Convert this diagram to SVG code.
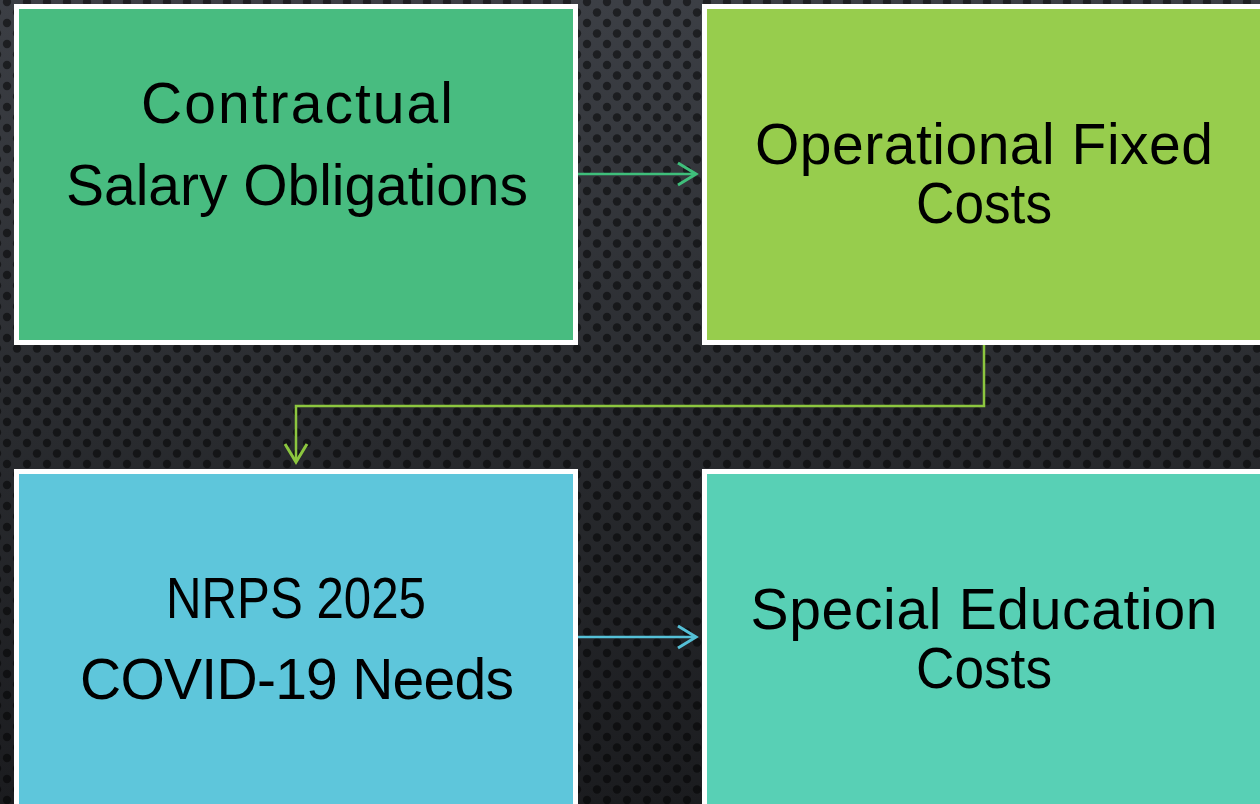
<svg xmlns="http://www.w3.org/2000/svg" width="1260" height="804" viewBox="0 0 1260 804">
  <defs>
    <linearGradient id="bgGrad" x1="0" y1="0" x2="0" y2="1">
      <stop offset="0" stop-color="#3c3f45"/>
      <stop offset="0.5" stop-color="#2a2c30"/>
      <stop offset="1" stop-color="#1b1c1f"/>
    </linearGradient>
    <pattern id="dots" x="7" y="2" width="20" height="21" patternUnits="userSpaceOnUse">
      <circle cx="0" cy="0" r="4.2" fill="#000" fill-opacity="0.5"/>
      <circle cx="20" cy="0" r="4.2" fill="#000" fill-opacity="0.5"/>
      <circle cx="10" cy="10.5" r="4.2" fill="#000" fill-opacity="0.5"/>
      <circle cx="0" cy="21" r="4.2" fill="#000" fill-opacity="0.5"/>
      <circle cx="20" cy="21" r="4.2" fill="#000" fill-opacity="0.5"/>
    </pattern>
    <marker id="chevGreen" markerUnits="userSpaceOnUse" markerWidth="24" markerHeight="28" refX="21" refY="14" orient="auto">
      <path d="M3,3 L21,14 L3,25" fill="none" stroke="#3fbf7b" stroke-width="3"/>
    </marker>
    <marker id="chevLime" markerUnits="userSpaceOnUse" markerWidth="24" markerHeight="28" refX="21" refY="14" orient="auto">
      <path d="M3,3 L21,14 L3,25" fill="none" stroke="#8cc63f" stroke-width="3"/>
    </marker>
    <marker id="chevBlue" markerUnits="userSpaceOnUse" markerWidth="24" markerHeight="28" refX="21" refY="14" orient="auto">
      <path d="M3,3 L21,14 L3,25" fill="none" stroke="#55c0d7" stroke-width="3"/>
    </marker>
  </defs>
  <style>
    .box { stroke: #ffffff; stroke-width: 5; }
    .lbl { font-family: "Liberation Sans", "DejaVu Sans", sans-serif; font-size: 57px; fill: #000000; text-anchor: middle; }
    .conn { fill: none; stroke-width: 2.5; }
  </style>

  <rect x="0" y="0" width="1260" height="804" fill="url(#bgGrad)"/>
  <rect x="0" y="0" width="1260" height="804" fill="url(#dots)"/>

  <g id="node-salary">
    <rect class="box" x="16.5" y="6.5" width="559" height="336" fill="#48bc80"/>
    <text class="lbl" x="297" y="123" textLength="312">Contractual</text>
    <text class="lbl" x="297" y="205" textLength="462">Salary Obligations</text>
  </g>

  <g id="node-operational">
    <rect class="box" x="704.5" y="6.5" width="570" height="336" fill="#97cd4d"/>
    <text class="lbl" x="984" y="164" textLength="458">Operational Fixed</text>
    <text class="lbl" x="984" y="223" textLength="136" lengthAdjust="spacingAndGlyphs">Costs</text>
  </g>

  <g id="node-nrps">
    <rect class="box" x="16.5" y="471.5" width="559" height="350" fill="#5ec6db"/>
    <text class="lbl" x="296" y="618" textLength="260" lengthAdjust="spacingAndGlyphs">NRPS 2025</text>
    <text class="lbl" x="297" y="699" textLength="434">COVID-19 Needs</text>
  </g>

  <g id="node-sped">
    <rect class="box" x="704.5" y="471.5" width="570" height="350" fill="#58d0b5"/>
    <text class="lbl" x="984" y="629" textLength="467">Special Education</text>
    <text class="lbl" x="984" y="688" textLength="136" lengthAdjust="spacingAndGlyphs">Costs</text>
  </g>

  <g id="connectors">
    <path class="conn" d="M578,174 L696,174" stroke="#3fbf7b" marker-end="url(#chevGreen)"/>
    <path class="conn" d="M984,345 L984,406 L296,406 L296,462" stroke="#8cc63f" marker-end="url(#chevLime)"/>
    <path class="conn" d="M578,637 L696,637" stroke="#55c0d7" marker-end="url(#chevBlue)"/>
  </g>
</svg>
